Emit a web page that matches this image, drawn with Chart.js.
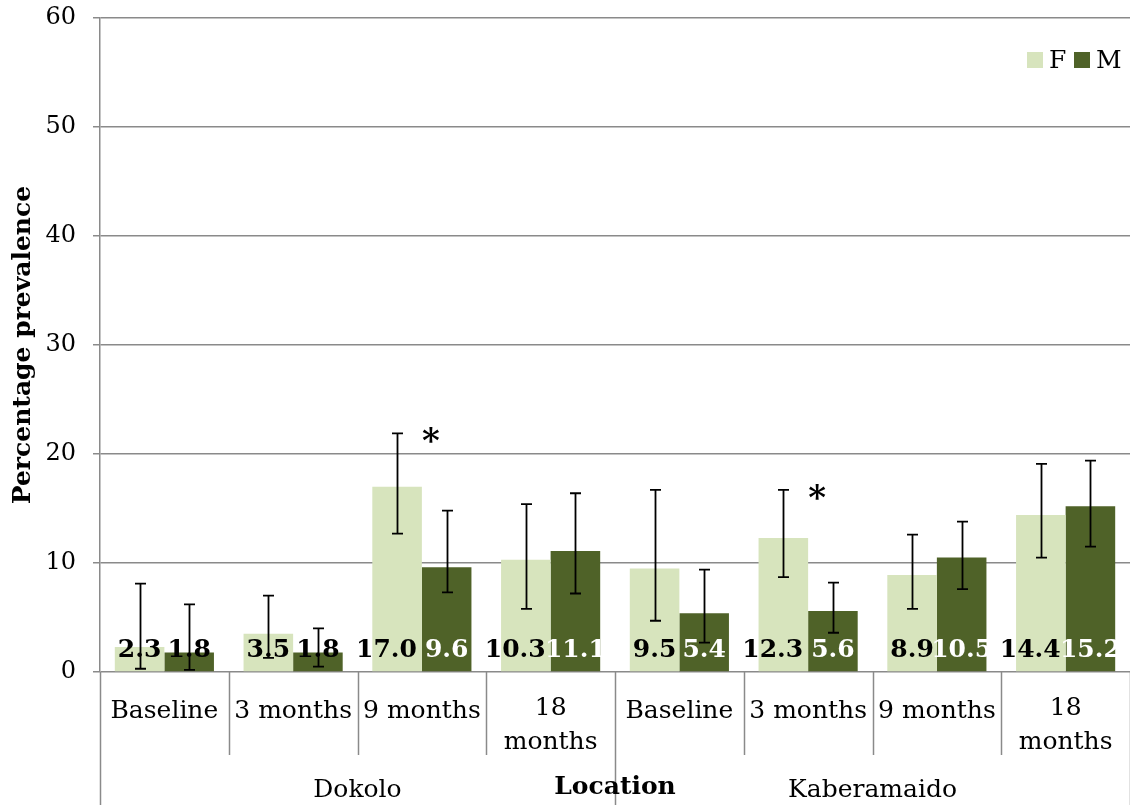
<!DOCTYPE html>
<html>
<head>
<meta charset="utf-8">
<script src="https://cdn.jsdelivr.net/npm/chart.js@4/dist/chart.umd.min.js"></script>
<style>
  html, body { margin: 0; padding: 0; background: #ffffff; }
  #wrap { width: 1130px; height: 805px; position: relative; }
</style>
</head>
<body>
<div id="wrap"><canvas id="c" width="1130" height="805"></canvas></div>
<script>
// Prevalence by sex at each survey round, for two locations
const periods = ['Baseline', '3 months', '9 months', ['18', 'months'], 'Baseline', '3 months', '9 months', ['18', 'months']];
const locations = ['Dokolo', 'Kaberamaido'];
const periodsPerLocation = 4;

const femaleValues = [2.3, 3.5, 17.0, 10.3, 9.5, 12.3, 8.9, 14.4];
const maleValues   = [1.8, 1.8, 9.6, 11.1, 5.4, 5.6, 10.5, 15.2];

// 95% confidence limits
const femaleLow  = [0.3, 1.3, 12.7, 5.8, 4.7, 8.7, 5.8, 10.5];
const femaleHigh = [8.1, 7.0, 21.9, 15.4, 16.7, 16.7, 12.6, 19.1];
const maleLow    = [0.2, 0.5, 7.3, 7.2, 2.7, 3.6, 7.6, 11.5];
const maleHigh   = [6.2, 4.0, 14.8, 16.4, 9.4, 8.2, 13.8, 19.4];

// Significant F vs M difference
const significant = [false, false, true, false, false, true, false, false];

const yTicks = [0, 10, 20, 30, 40, 50, 60];

const FONT = '"DejaVu Serif", "Liberation Serif", serif';
const GRID = '#8a8a8a';
const F_COLOR = '#d7e4bd';
const M_COLOR = '#4f6228';

const errorBars = {
  id: 'errorBars',
  afterDatasetsDraw(chart) {
    const ctx = chart.ctx;
    const y = chart.scales.y;
    const sets = [[femaleLow, femaleHigh], [maleLow, maleHigh]];
    ctx.save();
    ctx.strokeStyle = '#000';
    ctx.lineWidth = 1.8;
    sets.forEach((pair, di) => {
      const meta = chart.getDatasetMeta(di);
      meta.data.forEach((bar, i) => {
        const x = Math.round(bar.x) + 0.5;
        const yl = y.getPixelForValue(pair[0][i]);
        const yh = y.getPixelForValue(pair[1][i]);
        ctx.beginPath();
        ctx.moveTo(x, yl); ctx.lineTo(x, yh);
        ctx.moveTo(x - 5.5, yh); ctx.lineTo(x + 5.5, yh);
        ctx.moveTo(x - 5.5, yl); ctx.lineTo(x + 5.5, yl);
        ctx.stroke();
      });
    });
    ctx.restore();
  }
};

const valueLabels = {
  id: 'valueLabels',
  afterDatasetsDraw(chart) {
    const ctx = chart.ctx;
    const y = chart.scales.y;
    const zero = y.getPixelForValue(0);
    ctx.save();
    ctx.font = 'bold 25px ' + FONT;
    ctx.textAlign = 'center';
    ctx.textBaseline = 'middle';
    [femaleValues, maleValues].forEach((vals, di) => {
      const meta = chart.getDatasetMeta(di);
      meta.data.forEach((bar, i) => {
        const text = vals[i].toFixed(1);
        const w = ctx.measureText(text).width;
        let cx = bar.x;
        // wide female labels keep clear of the neighbouring male bar
        if (di === 0 && w > bar.width) cx = bar.x + bar.width / 2 - 5 - w / 2;
        // labels that do not fit inside a dark bar are drawn in black
        const tall = zero - bar.y > 34;
        ctx.fillStyle = (di === 1 && tall) ? '#ffffff' : '#000000';
        ctx.fillText(text, cx, zero - 22);
      });
    });
    // significance markers
    ctx.fillStyle = '#000';
    ctx.font = 'bold 34px ' + FONT;
    const x = chart.scales.x;
    significant.forEach((s, i) => {
      if (!s) return;
      const px = x.getPixelForValue(i) + 9;
      const py = y.getPixelForValue(femaleHigh[i]) + 10;
      ctx.fillText('*', px, py);
    });
    ctx.restore();
  }
};

const axisLabels = {
  id: 'axisLabels',
  afterDraw(chart) {
    const ctx = chart.ctx;
    const x = chart.scales.x;
    const area = chart.chartArea;
    const n = periods.length;
    const step = (area.right - area.left) / n;
    const base = area.bottom;
    ctx.save();
    ctx.strokeStyle = GRID;
    ctx.lineWidth = 1.5;
    // category dividers
    for (let i = 0; i <= n; i++) {
      const px = area.left + i * step;
      const isGroup = i % periodsPerLocation === 0;
      ctx.beginPath();
      ctx.moveTo(Math.round(px) + 0.5, base);
      ctx.lineTo(Math.round(px) + 0.5, isGroup ? chart.height : base + 83);
      ctx.stroke();
    }
    // period labels
    ctx.fillStyle = '#000';
    ctx.font = '25px ' + FONT;
    ctx.textAlign = 'center';
    ctx.textBaseline = 'middle';
    periods.forEach((lab, i) => {
      const cx = x.getPixelForValue(i);
      if (Array.isArray(lab)) {
        ctx.fillText(lab[0], cx, base + 36);
        ctx.fillText(lab[1], cx, base + 70);
      } else {
        ctx.fillText(lab, cx, base + 39);
      }
    });
    // location labels
    locations.forEach((loc, g) => {
      const l = area.left + g * periodsPerLocation * step;
      const r = l + periodsPerLocation * step;
      ctx.fillText(loc, (l + r) / 2, base + 118);
    });
    // axis title
    ctx.font = 'bold 25px ' + FONT;
    ctx.fillText('Location', (area.left + area.right) / 2, base + 115);
    // legend
    ctx.textAlign = 'left';
    ctx.textBaseline = 'alphabetic';
    ctx.font = '25px ' + FONT;
    ctx.fillStyle = F_COLOR;
    ctx.fillRect(1027, 52, 16, 16);
    ctx.fillStyle = '#000';
    ctx.fillText('F', 1049, 68);
    ctx.fillStyle = M_COLOR;
    ctx.fillRect(1074, 52, 16, 16);
    ctx.fillStyle = '#000';
    ctx.fillText('M', 1096, 68);
    ctx.restore();
  }
};

new Chart(document.getElementById('c'), {
  type: 'bar',
  data: {
    labels: periods,
    datasets: [
      { label: 'F', data: femaleValues, backgroundColor: F_COLOR },
      { label: 'M', data: maleValues, backgroundColor: M_COLOR }
    ]
  },
  options: {
    responsive: false,
    animation: false,
    layout: { padding: { top: 18, right: 0, bottom: 0, left: 0 } },
    plugins: { legend: { display: false }, tooltip: { enabled: false } },
    datasets: { bar: { categoryPercentage: 0.77, barPercentage: 1.0 } },
    scales: {
      x: {
        ticks: { display: false },
        grid: { display: false, drawTicks: false },
        border: { display: false },
        afterFit(scale) { scale.height = 133; }
      },
      y: {
        min: 0,
        max: 60,
        afterBuildTicks(scale) { scale.ticks = yTicks.map(v => ({ value: v })); },
        ticks: {
          font: { family: FONT, size: 24 },
          color: '#000',
          padding: 17
        },
        grid: { color: GRID, lineWidth: 1.5, tickLength: 7 },
        border: { color: GRID, width: 1.5 },
        title: {
          display: true,
          text: 'Percentage prevalence',
          font: { family: FONT, size: 25, weight: 'bold' },
          color: '#000',
          padding: { top: 8, bottom: 0 }
        },
        afterFit(scale) {
          scale.width = 100;
          scale.paddingTop = 0;
          scale.paddingBottom = 0;
        }
      }
    }
  },
  plugins: [errorBars, valueLabels, axisLabels]
});
</script>
</body>
</html>
